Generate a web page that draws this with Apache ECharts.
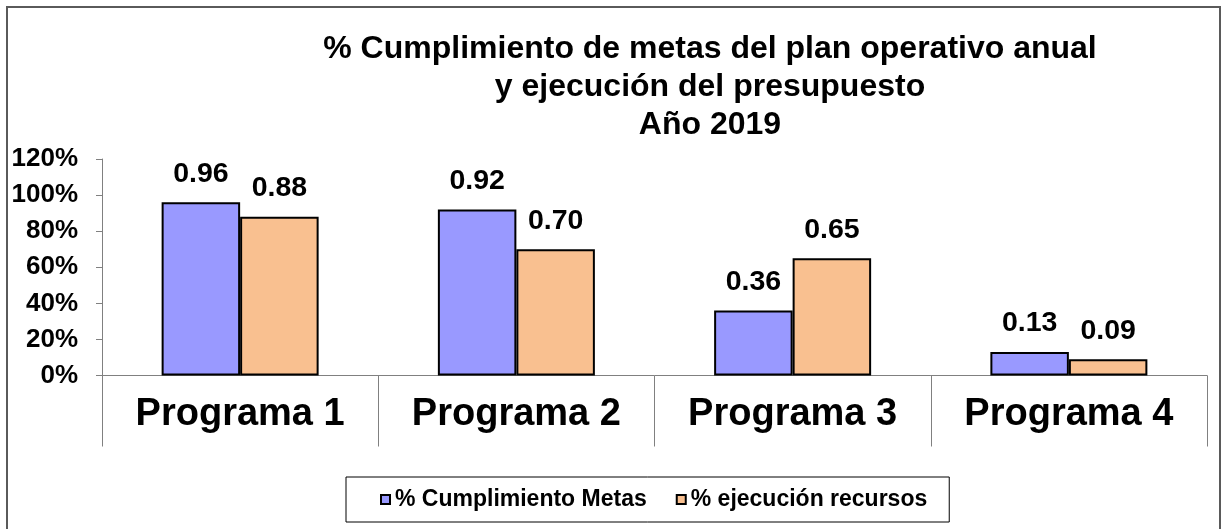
<!DOCTYPE html>
<html>
<head>
<meta charset="utf-8">
<script src="https://cdn.jsdelivr.net/npm/echarts@6/dist/echarts.min.js"></script>
<style>html,body{margin:0;padding:0;background:#fff;}#c{width:1223px;height:529px;}</style>
</head>
<body>
<div id="c"></div>
<script>
const titleLines = ['% Cumplimiento de metas del plan operativo anual', 'y ejecución del presupuesto', 'Año 2019'];
const categories = ['Programa 1', 'Programa 2', 'Programa 3', 'Programa 4'];
const seriesNames = ['% Cumplimiento Metas', '% ejecución recursos'];
const metas = [0.96, 0.92, 0.36, 0.13];
const recursos = [0.88, 0.70, 0.65, 0.09];
const yTicks = { min: 0, max: 1.2, interval: 0.2 };

const FONT = "'Liberation Sans', Arial, sans-serif";
const chart = echarts.init(document.getElementById('c'), null, { renderer: 'canvas' });

function barSeries(name, data, color) {
  return {
    name: name,
    type: 'bar',
    data: data,
    barWidth: 78.5,
    barGap: '0%',
    itemStyle: { color: color, borderColor: '#000', borderWidth: 2 },
    label: {
      show: true,
      position: 'top',
      distance: 14,
      formatter: p => p.value.toFixed(2),
      fontFamily: FONT,
      fontWeight: 'bold',
      fontSize: 28.5,
      color: '#000'
    }
  };
}

chart.setOption({
  animation: false,
  backgroundColor: '#fff',
  textStyle: { fontFamily: FONT },
  graphic: [
    {
      type: 'rect',
      shape: { x: 7, y: 7, width: 1213, height: 540 },
      style: { fill: 'none', stroke: '#5a5a5a', lineWidth: 2 },
      silent: true
    },
    {
      type: 'text',
      x: 710,
      y: 30,
      style: {
        text: titleLines.join('\n'),
        textAlign: 'center',
        textVerticalAlign: 'top',
        font: 'bold 32px ' + FONT,
        lineHeight: 38,
        fill: '#000'
      },
      silent: true
    }
  ],
  legend: {
    data: seriesNames,
    left: 346,
    top: 477,
    orient: 'horizontal',
    padding: [11, 22, 11, 34],
    itemGap: 29,
    itemWidth: 9,
    itemHeight: 9,
    icon: 'rect',
    borderColor: '#000',
    borderWidth: 1,
    itemStyle: { borderColor: '#000', borderWidth: 2 },
    textStyle: { fontFamily: FONT, fontWeight: 'bold', fontSize: 23, color: '#000' }
  },
  grid: { left: 102, right: 16, top: 159, bottom: 153.5, containLabel: false },
  xAxis: {
    type: 'category',
    data: categories,
    boundaryGap: true,
    axisLine: { lineStyle: { color: '#808080', width: 1 } },
    axisTick: { show: true, alignWithLabel: false, length: 71, lineStyle: { color: '#808080', width: 1 } },
    axisLabel: { margin: 20, fontFamily: FONT, fontWeight: 'bold', fontSize: 38, color: '#000' },
    splitLine: { show: false }
  },
  yAxis: {
    type: 'value',
    min: yTicks.min,
    max: yTicks.max,
    interval: yTicks.interval,
    axisLine: { show: true, lineStyle: { color: '#808080', width: 1 } },
    axisTick: { show: true, inside: false, length: 6, lineStyle: { color: '#808080' } },
    axisLabel: {
      margin: 24,
      formatter: v => Math.round(v * 100) + '%',
      fontFamily: FONT, fontWeight: 'bold', fontSize: 26, color: '#000'
    },
    splitLine: { show: false }
  },
  series: [
    barSeries(seriesNames[0], metas, '#9999FF'),
    barSeries(seriesNames[1], recursos, '#F9C090')
  ]
});
</script>
</body>
</html>
